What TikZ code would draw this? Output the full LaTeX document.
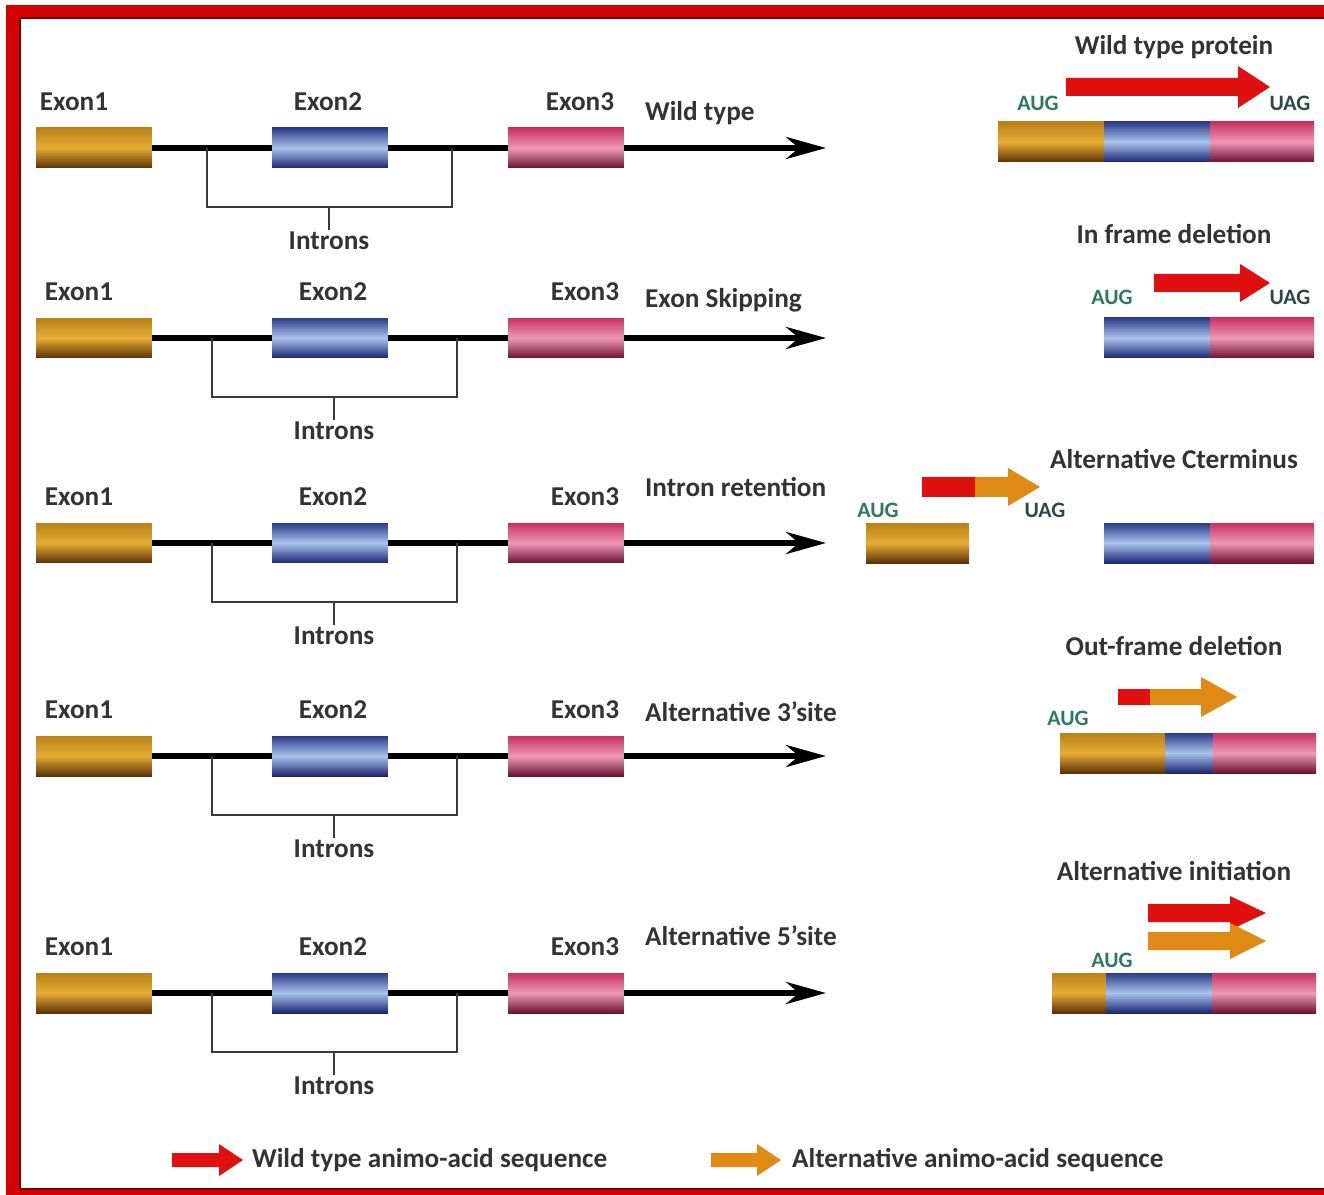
\documentclass[tikz,border=0pt]{standalone}
\usepackage{fontspec}
\setmainfont{Carlito}
\usetikzlibrary{arrows.meta}

\definecolor{framered}{HTML}{D40000}
\definecolor{framedark}{HTML}{7A0000}
\definecolor{txtgray}{HTML}{333333}
\definecolor{brgray}{HTML}{3A3A3A}
\definecolor{goldtop}{HTML}{B8821A}
\definecolor{goldmid}{HTML}{E6AC34}
\definecolor{goldbot}{HTML}{5C3206}
\definecolor{bluetop}{HTML}{2C3C88}
\definecolor{bluemid}{HTML}{A8C4EC}
\definecolor{bluebot}{HTML}{1C2470}
\definecolor{pinktop}{HTML}{C83262}
\definecolor{pinkmid}{HTML}{EE98B6}
\definecolor{pinkbot}{HTML}{6E1232}
\definecolor{wtred}{HTML}{E01010}
\definecolor{altorange}{HTML}{DE8A14}
\definecolor{augcol}{HTML}{2E7A5E}
\definecolor{uagcol}{HTML}{2E4848}

% fat arrow: colour, x start, x tip, y, half shaft, half head, head length
\newcommand{\fatarrow}[7]{%
  \fill[#1] (#2,{#4-#5}) -- ({#3-#7},{#4-#5}) -- ({#3-#7},{#4-#6}) -- (#3,#4)
    -- ({#3-#7},{#4+#6}) -- ({#3-#7},{#4+#5}) -- (#2,{#4+#5}) -- cycle;}

\begin{document}
\begin{tikzpicture}[x=0.02cm, y=-0.02cm,
  txt/.style={font=\bfseries\fontsize{15.5}{18}\selectfont, text=txtgray, inner sep=1pt},
  codon/.style={font=\bfseries\fontsize{12.5}{14}\selectfont, inner sep=0pt},
  exon/.style={minimum width=2.32cm, minimum height=0.8cm, inner sep=0pt},
  exgold/.style={top color=goldtop, bottom color=goldbot, middle color=goldmid},
  exblue/.style={top color=bluetop, bottom color=bluebot, middle color=bluemid},
  expink/.style={top color=pinktop, bottom color=pinkbot, middle color=pinkmid},
  backbone/.style={line width=0.12cm, draw=black},
  bracket/.style={line width=0.055cm, draw=brgray}]
  \useasboundingbox (0,0) rectangle (1324,1195);
  % frame
  \fill[framered] (6,5) rectangle (20,1195);
  \fill[framered] (6,5) rectangle (1324,18);
  \fill[framered] (6,1189) rectangle (1324,1195);
  \draw[framedark, line width=0.04cm] (1324,18) -- (20,18) -- (20,1189) -- (1324,1189);

  % the five gene models
  \foreach \y/\dx/\name/\ny in {148/-5/Wild type/113, 338/0/Exon Skipping/300,
      543/0/Intron retention/487, 756/0/Alternative 3'site/712,
      993/0/Alternative 5'site/936}{
    \node[exon, exgold] (e1-\y) at (94,\y) {};
    \node[exon, exblue] (e2-\y) at (330,\y) {};
    \node[exon, expink] (e3-\y) at (566,\y) {};
    \coordinate (tip-\y) at (826,\y);
    \draw[backbone] (e1-\y) -- (e2-\y) (e2-\y) -- (e3-\y);
    \draw[backbone, -{Stealth[length=0.8cm, width=0.44cm]}] (e3-\y) -- (tip-\y);
    \node[txt] (l1-\y) at ({79+\dx},{\y-46}) {Exon1};
    \node[txt] (l2-\y) at ({333+\dx},{\y-46}) {Exon2};
    \node[txt] (l3-\y) at ({585+\dx},{\y-46}) {Exon3};
    \node[txt, anchor=west] (n-\y) at (643,\ny) {\name};
    \coordinate (a-\y) at ({212+\dx},\y);
    \coordinate (b-\y) at ({457+\dx},\y);
    \coordinate (c-\y) at ({334+\dx},{\y+59});
    \node[txt, anchor=north] (in-\y) at ({334+\dx},{\y+82}) {Introns};
    \draw[bracket] (a-\y) |- (c-\y) -| (b-\y);
    \draw[bracket] (c-\y) -- (in-\y);
  }

  % proteins
  \node[txt] (p1) at (1174,47) {Wild type protein};
  \fatarrow{wtred}{1066}{1270}{87}{9}{21}{32}
  \node[codon, text=augcol] (aug1) at (1038,103) {AUG};
  \node[codon, text=uagcol] (uag1) at (1290,103) {UAG};
  \shade[exgold] (998,122) rectangle (1104,162);
  \shade[exblue] (1104,122) rectangle (1210,162);
  \shade[expink] (1210,122) rectangle (1314,162);

  \node[txt] (p2) at (1174,234) {In frame deletion};
  \fatarrow{wtred}{1154}{1270}{283}{9}{19}{30}
  \node[codon, text=augcol] (aug2) at (1112,297) {AUG};
  \node[codon, text=uagcol] (uag2) at (1290,297) {UAG};
  \shade[exblue] (1104,318) rectangle (1210,358);
  \shade[expink] (1210,318) rectangle (1314,358);

  \node[txt] (p3) at (1174,459) {Alternative Cterminus};
  \fatarrow{altorange}{922}{1040}{487}{10}{19}{32}
  \fill[wtred] (922,477) rectangle (975,497);
  \node[codon, text=augcol] (aug3) at (878,510) {AUG};
  \node[codon, text=uagcol] (uag3) at (1045,510) {UAG};
  \shade[exgold] (866,523) rectangle (969,563);
  \shade[exblue] (1104,523) rectangle (1210,563);
  \shade[expink] (1210,523) rectangle (1314,563);

  \node[txt] (p4) at (1174,646) {Out-frame deletion};
  \fatarrow{altorange}{1118}{1237}{697}{8}{20}{36}
  \fill[wtred] (1118,689) rectangle (1150,705);
  \node[codon, text=augcol] (aug4) at (1068,718) {AUG};
  \shade[exgold] (1060,733) rectangle (1165,773);
  \shade[exblue] (1165,733) rectangle (1213,773);
  \shade[expink] (1213,733) rectangle (1316,773);

  \node[txt] (p5) at (1174,871) {Alternative initiation};
  \fatarrow{wtred}{1148}{1266}{913}{9}{17}{36}
  \fatarrow{altorange}{1148}{1266}{941}{9}{18}{36}
  \node[codon, text=augcol] (aug5) at (1112,960) {AUG};
  \shade[exgold] (1052,973) rectangle (1106,1013);
  \shade[exblue] (1106,973) rectangle (1212,1013);
  \shade[expink] (1212,973) rectangle (1316,1013);

  % legend
  \fatarrow{wtred}{172}{243}{1160}{7}{16}{24}
  \node[txt, anchor=west] (leg1) at (250,1160) {Wild type animo-acid sequence};
  \fatarrow{altorange}{711}{781}{1160}{7}{16}{24}
  \node[txt, anchor=west] (leg2) at (790,1160) {Alternative animo-acid sequence};
\end{tikzpicture}
\end{document}
